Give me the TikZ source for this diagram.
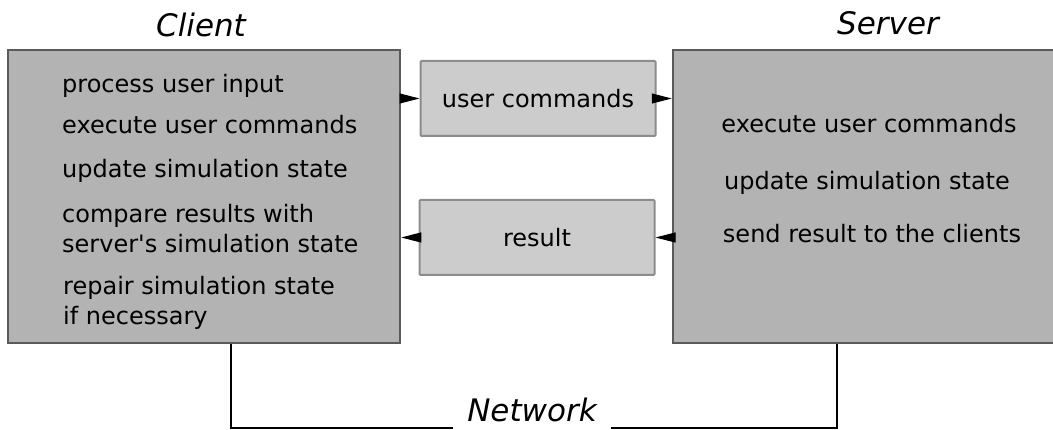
\documentclass[tikz,border=0pt]{standalone}
\usepackage{fontspec}
\setmainfont{DejaVu Sans}
\usetikzlibrary{arrows.meta,calc}
\definecolor{boxgray}{RGB}{179,179,179}
\definecolor{boxedge}{RGB}{90,90,90}
\definecolor{msggray}{RGB}{204,204,204}
\definecolor{msgedge}{RGB}{140,140,140}

\tikzset{
  host/.style={draw=boxedge,fill=boxgray,line width=2.5pt,rectangle,minimum height=293pt},
  msg/.style={draw=msgedge,fill=msggray,line width=2pt,rectangle,rounded corners=1pt,
    minimum width=235pt,minimum height=75pt,font=\fontsize{24}{28}\selectfont},
  item/.style={inner sep=0pt,font=\fontsize{24}{28}\selectfont},
  title/.style={inner sep=0pt,anchor=base,font=\fontsize{31}{36}\selectfont\itshape},
  flow/.style={-{Triangle[length=20pt,width=10pt]},line width=1pt},
  netline/.style={line width=2pt}
}

\begin{document}
\begin{tikzpicture}[x=1pt,y=-1pt]
  \useasboundingbox (0,0) rectangle (1053,430);

  % Hosts
  \node[host,minimum width=392pt] (client) at (204,196.5) {};
  \node[host,minimum width=387pt] (server) at (866.5,196.5) {};
  \node[title] (clientt) at (201,37) {Client};
  \node[title] (servert) at (888,35) {Server};

  % Client tasks
  \foreach \t/\y [count=\i] in {process user input/93,execute user commands/134,
      update simulation state/178,compare results with/223,server\textquotesingle s simulation state/253} {
    \node[item,anchor=base west] (c\i) at (62,\y) {\t};
  }
  \node[item,anchor=base west] (c6) at (63,295) {repair simulation state};
  \node[item,anchor=base west] (c7) at (63,325) {if necessary};

  % Server tasks
  \node[item,anchor=base] (s1) at (869,133) {execute user commands};
  \node[item,anchor=base] (s2) at (867,190) {update simulation state};
  \node[item,anchor=base] (s3) at (872,243) {send result to the clients};

  % Messages
  \node[msg] (ucmd) at (538,98.5) {user commands};
  \node[msg] (res) at (537,237.5) {result};
  \draw[flow] (client.east |- ucmd.west) -- (ucmd.west);
  \draw[flow] (ucmd.east) -- (server.west |- ucmd.east);
  \draw[flow] (server.west |- res.east) -- (res.east);
  \draw[flow] (res.west) -- (client.east |- res.west);

  % Network
  \node[title,inner xsep=14pt] (net) at (532,422) {Network};
  \coordinate (netbase) at (0,428);
  \draw[netline] ($(client.south)+(27,0)$) |- (net.west |- netbase);
  \draw[netline] ($(server.south)+(-29.5,0)$) |- (net.east |- netbase);
\end{tikzpicture}
\end{document}
